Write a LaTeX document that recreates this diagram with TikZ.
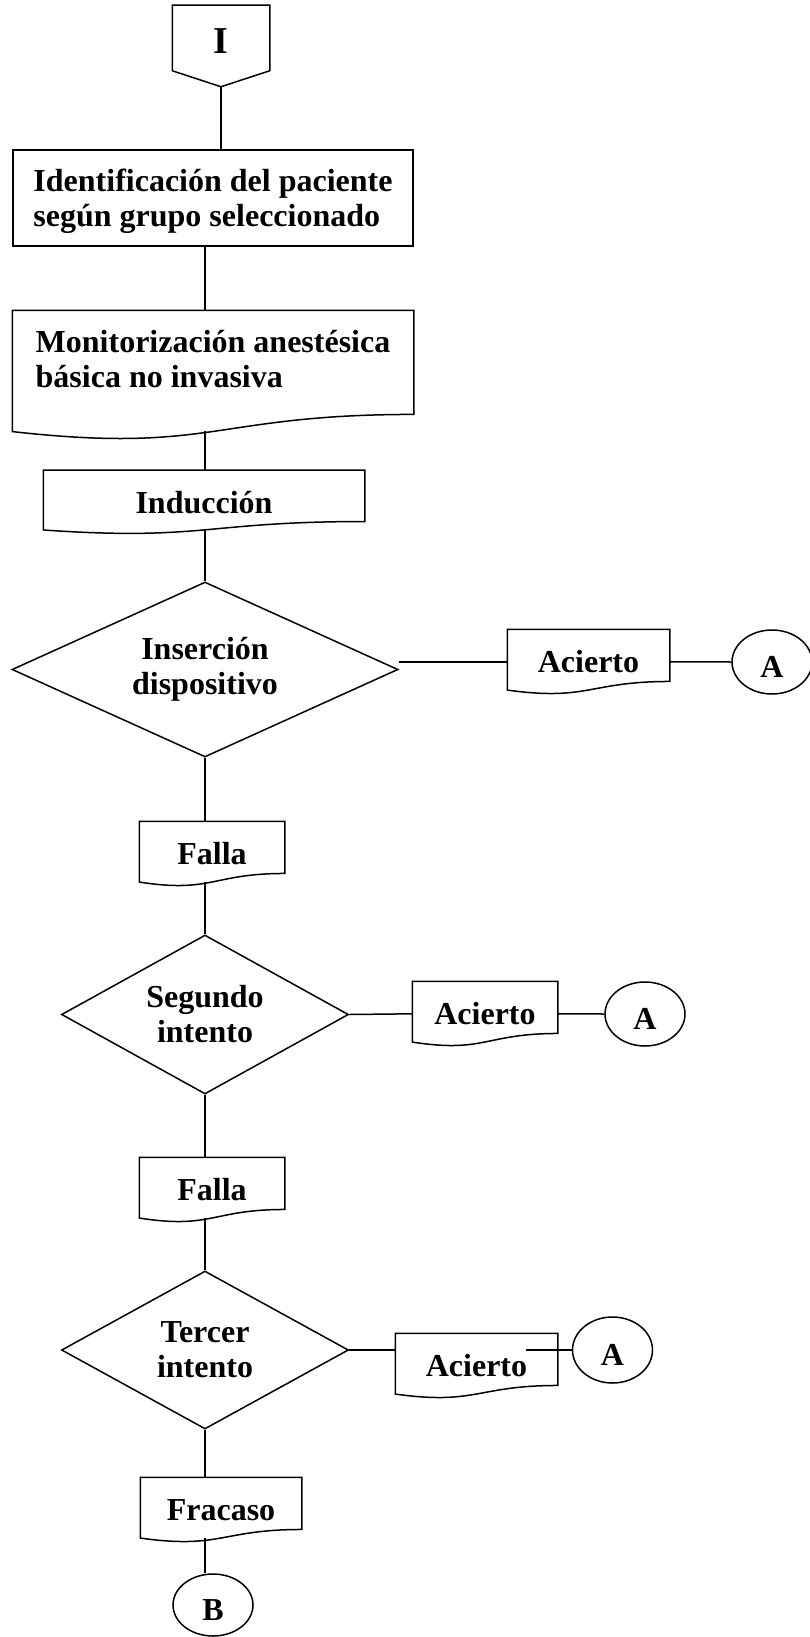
\documentclass[tikz,border=0pt]{standalone}
\usepackage{fontspec}
\setmainfont{Liberation Serif}
\usetikzlibrary{shapes.geometric,calc}

\begin{document}
\begin{tikzpicture}[x=1pt,y=-1pt,line width=1.5pt,
  every node/.style={font=\fontsize{32}{35}\selectfont\bfseries},
  proc/.style={draw,rectangle,inner sep=0pt,align=left},
  doc/.style={rectangle,inner sep=0pt,text height=22pt,text depth=0pt},
  decision/.style={draw,diamond,aspect=2,inner sep=0pt,align=center},
  conn/.style={draw,ellipse,inner sep=0pt,minimum width=80pt,minimum height=64pt,text height=31pt,text depth=0pt}]
  \useasboundingbox (0,0) rectangle (809,1637);

  \node[rectangle,inner sep=0pt,minimum width=96pt,minimum height=64pt,text height=31pt,text depth=0pt,
        font=\fontsize{38}{38}\selectfont\bfseries] (start) at (221,38) {I};

  \node[proc,minimum width=400pt,minimum height=96pt,text height=59pt,text depth=1pt] (id) at (213,198) {Identificación del paciente\\según grupo seleccionado};
  \node[doc,align=left,minimum width=400pt,minimum height=128.4pt,text height=60pt,text depth=36pt] (mon) at (213,375.2) {Monitorización anestésica\\básica no invasiva};
  \node[doc,minimum width=320pt,minimum height=62.5pt] (ind) at (204,502.2) {Inducción};

  \node[decision,minimum width=386pt,minimum height=175pt] (d1) at (205,669.5) {Inserción\\dispositivo};
  \node[doc,minimum width=161pt,minimum height=63.6pt] (ac1) at (588.5,661.8) {Acierto};
  \node[conn] (a1) at (772,662) {A};
  \node[doc,minimum width=144pt,minimum height=63.6pt] (fal1) at (212,853.8) {Falla};

  \node[decision,minimum width=287pt,minimum height=159pt] (d2) at (205,1014.5) {Segundo\\intento};
  \node[doc,minimum width=144pt,minimum height=63.6pt] (ac2) at (485,1013.8) {Acierto};
  \node[conn] (a2) at (645,1014) {A};
  \node[doc,minimum width=144pt,minimum height=63.6pt] (fal2) at (212,1189.8) {Falla};

  \node[decision,minimum width=287pt,minimum height=158pt] (d3) at (205,1350) {Tercer\\intento};
  \node[doc,minimum width=161pt,minimum height=63.6pt] (ac3) at (476.5,1365.8) {Acierto};
  \node[conn,minimum height=66pt] (a3) at (612.5,1350) {A};
  \node[doc,minimum width=160pt,minimum height=63.6pt] (fra) at (221,1509.8) {Fracaso};
  \node[conn,minimum height=62pt] (b) at (213,1605) {B};

  % conector de pagina
  \draw (start.south west) -- (start.north west) -- (start.north east) -- (start.south east)
    -- ($(start.south)+(0,16)$) coordinate (start-b) -- cycle;

  % documentos
  \foreach \s in {mon,ind,fal1,ac1,ac2,fal2,ac3,fra}
    \draw let \p1=(\s.north west), \p2=(\s.south east), \n1={\y1-\y2} in
      (\p1) -- (\x2,\y1) -- (\x2,{\y1-0.802*\n1})
      .. controls ({(\x1+\x2)/2},{\y1-0.802*\n1}) and ({(\x1+\x2)/2},{\y1-1.1075*\n1}) .. (\x1,{\y1-0.934*\n1}) -- cycle
      ({(\x1+\x2)/2},{\y1-0.933*\n1}) coordinate (\s-b);

  \draw (start-b) -- (id.north -| start-b);
  \draw (id.south -| d1.north) -- (mon.north -| d1.north);
  \draw (mon-b -| d1.north) -- (ind.north -| d1.north);
  \draw (ind-b -| d1.north) -- (d1.north);

  \draw (d1.east |- ac1.west) -- (ac1.west);
  \draw (ac1.east) -- (a1.west);
  \draw (d1.south) -- (fal1.north -| d1.south);
  \draw (fal1-b -| d2.north) -- (d2.north);

  \draw (d2.east) -- (ac2.west);
  \draw (ac2.east) -- (a2.west);
  \draw (d2.south) -- (fal2.north -| d2.south);
  \draw (fal2-b -| d3.north) -- (d3.north);

  \draw (d3.east) -- (d3.east -| ac3.west);
  \draw (a3.west) -- ($(a3.west -| ac3.east)+(-32,0)$);
  \draw (d3.south) -- (fra.north -| d3.south);
  \draw (fra-b -| d3.south) -- (b.north -| d3.south);
\end{tikzpicture}
\end{document}
